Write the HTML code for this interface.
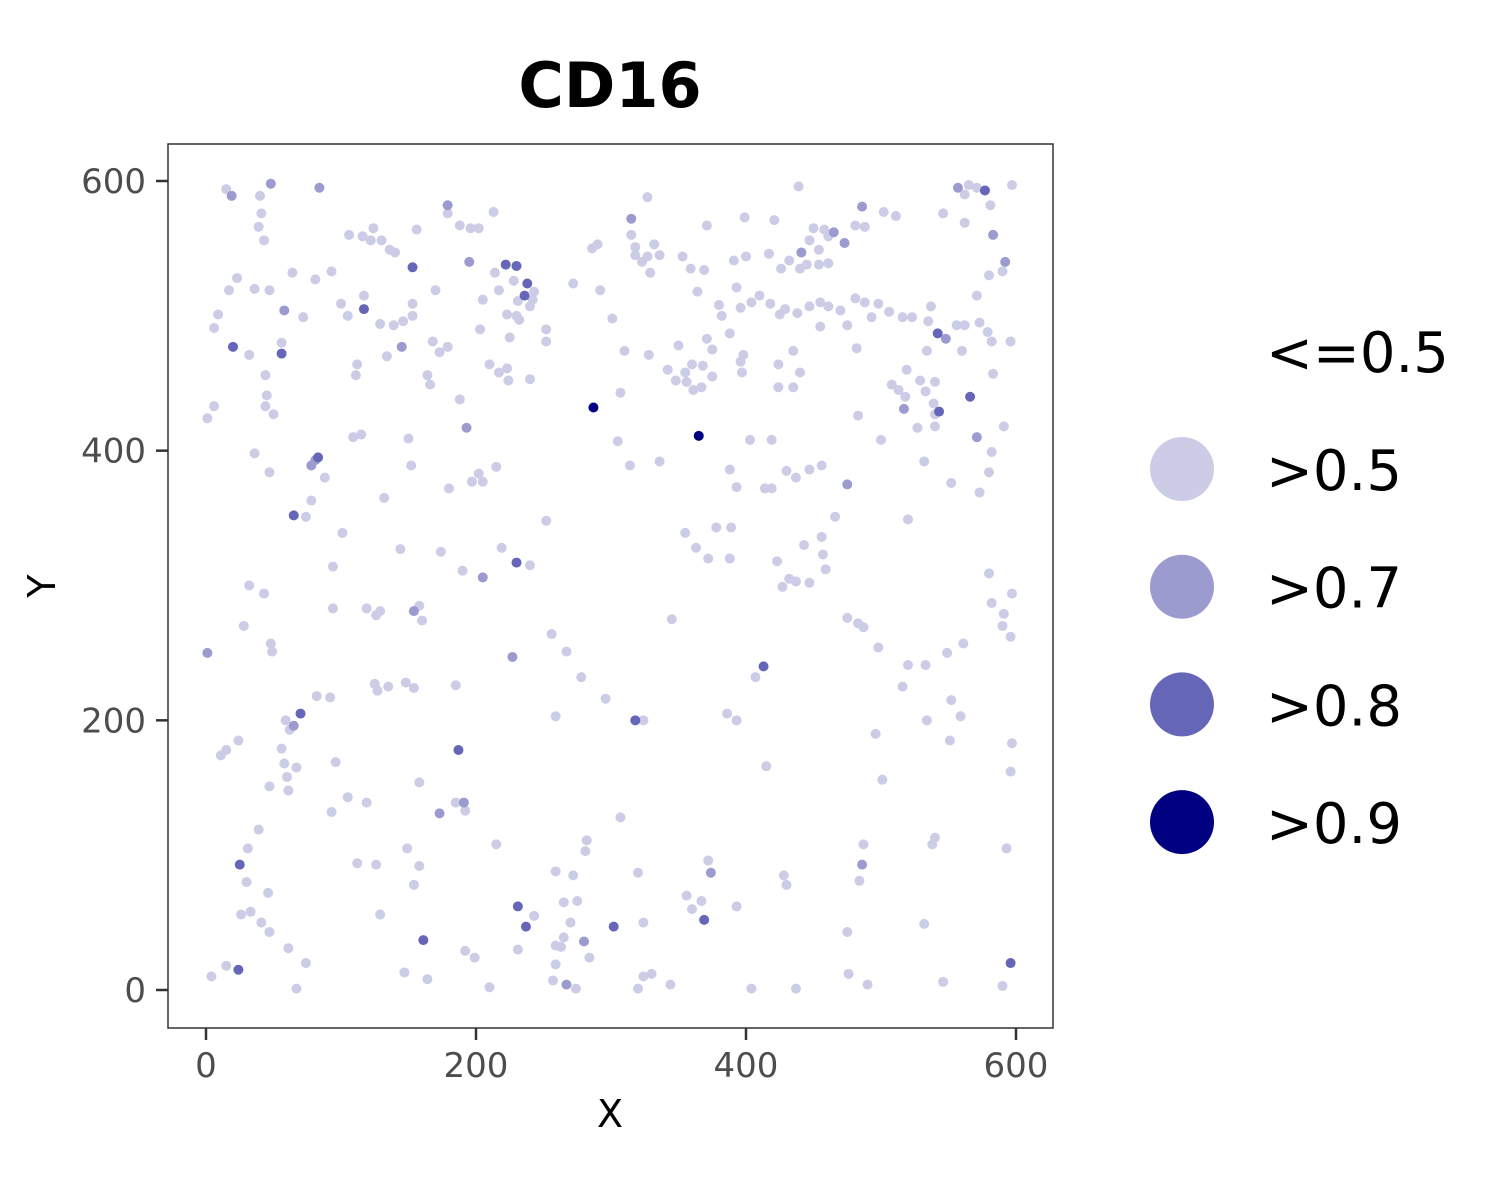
<!DOCTYPE html>
<html><head><meta charset="utf-8"><style>
body{margin:0;background:#fff}
svg{display:block;font-family:"DejaVu Sans","Liberation Sans",sans-serif}
</style></head><body>
<svg id="chart" width="1500" height="1200" viewBox="0 0 1500 1200" xmlns="http://www.w3.org/2000/svg">
<rect width="1500" height="1200" fill="#fff"/>
<text x="610" y="107" text-anchor="middle" font-size="62" font-weight="bold">CD16</text>
<g id="points"></g>
<rect x="168" y="144" width="885" height="884" fill="none" stroke="#333" stroke-width="1.5"/>
<g id="axes"></g>
<text x="610" y="1127" text-anchor="middle" font-size="38">X</text>
<text transform="translate(55,586) rotate(-90)" text-anchor="middle" font-size="38">Y</text>
<g id="legend">
<text x="1266" y="372" font-size="56">&lt;=0.5</text>
</g>
</svg>
<script>
const xTicks=[0,200,400,600];
const yTicks=[0,200,400,600];
const legendLabels=[">0.5",">0.7",">0.8",">0.9"];
const levelColors=["#cccce6","#9c9bcf","#6666b9","#000080"];
const lightPts=[[15,594],[40,589],[179,576],[213,577],[327,588],[399,573],[421,571],[439,596],[502,577],[511,574],[546,576],[565,597],[571,595],[581,582],[597,597],[562,569],[562,590],
[41,576],[39,566],[43,556],[106,560],[124,565],[130,556],[136,549],[140,547],[122,556],[116,559],[156,564],[188,567],[196,565],[202,565],[214,532],[217,519],[228,526],[231,511],[230,500],[243,518],[242,512],[290,553],[286,550],[315,560],[318,545],[323,540],[327,544],[332,553],[336,545],[329,532],[353,544],[359,535],[369,534],[371,567],[364,518],[391,541],[400,544],[417,546],[426,535],[432,541],[440,535],[447,556],[450,565],[458,564],[445,538],[454,538],[461,539],[454,549],[461,559],[481,567],[488,566],
[23,528],[17,519],[9,501],[36,520],[47,519],[64,532],[81,527],[93,533],[100,509],[105,500],[117,515],[129,494],[139,493],[146,496],[153,509],[153,500],[170,519],[205,512],[203,490],[223,501],[225,484],[232,497],[240,507],[252,490],[272,524],[292,519],[301,498],[318,551],[380,508],[382,500],[393,521],[396,506],[404,510],[410,515],[418,509],[425,501],[429,505],[438,502],[447,507],[455,510],[461,507],[470,504],[481,513],[488,510],[498,509],[506,503],[516,499],[523,499],[535,496],[537,507],[556,493],[562,493],[571,515],[580,530],[590,533],[573,495],[579,488],[582,481],[596,481],[493,499],[475,493],[455,492],
[6,491],[32,471],[44,456],[56,480],[72,499],[112,464],[111,456],[134,470],[168,481],[173,473],[179,477],[164,456],[166,449],[188,438],[210,464],[217,458],[224,452],[223,461],[240,453],[252,481],[310,474],[328,471],[307,443],[342,460],[350,478],[355,458],[348,452],[356,451],[360,464],[361,445],[367,447],[371,483],[375,475],[375,455],[368,463],[388,487],[396,466],[398,471],[397,458],[424,464],[424,447],[435,474],[435,447],[440,458],[482,476],[483,426],[508,449],[513,445],[518,440],[519,460],[529,452],[534,474],[540,451],[540,427],[533,444],[539,435],[527,417],[540,418],[583,457],[560,474],
[1,424],[6,433],[45,441],[44,433],[50,427],[36,398],[47,384],[88,380],[78,363],[74,351],[109,410],[115,412],[150,409],[152,389],[180,372],[197,377],[202,383],[205,377],[215,388],[132,365],[314,389],[336,392],[305,407],[403,408],[388,386],[393,373],[414,372],[419,408],[419,372],[430,385],[437,380],[447,386],[456,389],[500,408],[532,392],[552,376],[573,369],[580,384],[582,399],[591,418],
[101,339],[94,314],[94,283],[32,300],[43,294],[144,327],[174,325],[190,311],[219,328],[240,315],[252,348],[119,283],[126,278],[129,281],[158,285],[160,274],[355,339],[363,328],[372,320],[378,343],[388,320],[389,343],[423,318],[427,299],[432,305],[437,303],[447,302],[443,330],[456,336],[457,323],[459,312],[466,351],[345,275],[475,276],[483,272],[487,269],[520,349],[580,309],[582,287],[597,294],[591,279],[590,270],[596,262],[561,257],
[28,270],[48,257],[49,251],[59,200],[62,193],[56,179],[60,158],[58,168],[15,178],[11,174],[24,185],[82,218],[92,217],[96,169],[125,227],[127,222],[135,225],[148,228],[154,224],[185,226],[256,264],[267,251],[278,232],[259,203],[296,216],[324,200],[386,205],[393,200],[407,232],[415,166],[498,254],[496,190],[501,156],[516,225],[520,241],[533,241],[549,250],[534,200],[552,215],[559,203],[551,185],[597,183],[596,162],
[47,151],[61,148],[67,165],[93,132],[105,143],[119,139],[112,94],[126,93],[129,56],[149,105],[158,154],[158,92],[154,78],[185,139],[192,133],[215,108],[31,105],[39,119],[30,80],[46,72],[33,58],[26,56],[41,50],[47,43],[259,88],[265,65],[272,85],[270,50],[282,111],[281,103],[307,128],[320,87],[275,66],[243,55],[324,50],[356,70],[360,60],[367,66],[372,96],[393,62],[428,85],[430,78],[484,81],[487,108],[540,113],[538,108],[532,49],[593,105],[475,43],
[4,10],[15,18],[61,31],[67,1],[74,20],[147,13],[164,8],[192,29],[199,24],[210,2],[231,30],[259,33],[263,32],[259,19],[257,7],[274,1],[284,24],[320,1],[324,10],[330,12],[344,4],[404,1],[437,1],[476,12],[490,4],[546,6],[590,3],[265,39]];
const medPts=[[19,589],[48,598],[84,595],[179,582],[315,572],[486,581],[557,595],[583,560],[195,540],[58,504],[145,477],[441,547],[465,562],[473,554],[592,540],[517,431],[548,483],[81,393],[78,389],[193,417],[205,306],[154,281],[475,375],[571,410],[1,250],[65,196],[227,247],[173,131],[191,139],[374,87],[486,93],[267,4],[280,36]];
const darkPts=[[20,477],[56,472],[153,536],[117,505],[65,352],[70,205],[187,178],[318,200],[413,240],[25,93],[24,15],[302,47],[236,515],[222,538],[230,537],[238,524],[596,20],[566,440],[577,593],[542,487],[543,429],[230,317],[161,37],[369,52],[231,62],[237,47],[83,395]];
const darkestPts=[[287,432],[365,411]];

const NS="http://www.w3.org/2000/svg";
const xScale=v=>206+v*(1016-206)/600;
const yScale=v=>990-v*(990-181)/600;
const pg=document.getElementById('points');
[lightPts,medPts,darkPts,darkestPts].forEach((arr,li)=>{
  arr.forEach(p=>{
    const c=document.createElementNS(NS,'circle');
    c.setAttribute('cx',xScale(p[0]));c.setAttribute('cy',yScale(p[1]));
    c.setAttribute('r',5);c.setAttribute('fill',levelColors[li]);
    
    
    pg.appendChild(c);
  });
});
const ax=document.getElementById('axes');
xTicks.forEach(t=>{
  const l=document.createElementNS(NS,'line');
  l.setAttribute('x1',xScale(t));l.setAttribute('x2',xScale(t));l.setAttribute('y1',1028);l.setAttribute('y2',1040);
  l.setAttribute('stroke','#333');l.setAttribute('stroke-width',2.5);
  
  
  ax.appendChild(l);
  const tx=document.createElementNS(NS,'text');
  tx.setAttribute('x',xScale(t));tx.setAttribute('y',1077);tx.setAttribute('text-anchor','middle');
  tx.setAttribute('font-size',34);tx.setAttribute('fill','#4d4d4d');tx.textContent=t;
  
  
  ax.appendChild(tx);
});
yTicks.forEach(t=>{
  const l=document.createElementNS(NS,'line');
  l.setAttribute('y1',yScale(t));l.setAttribute('y2',yScale(t));l.setAttribute('x1',156);l.setAttribute('x2',168);
  l.setAttribute('stroke','#333');l.setAttribute('stroke-width',2.5);
  
  
  ax.appendChild(l);
  const tx=document.createElementNS(NS,'text');
  tx.setAttribute('x',146);tx.setAttribute('y',yScale(t)+12);tx.setAttribute('text-anchor','end');
  tx.setAttribute('font-size',34);tx.setAttribute('fill','#4d4d4d');tx.textContent=t;
  
  
  ax.appendChild(tx);
});
const lg=document.getElementById('legend');
legendLabels.forEach((lab,i)=>{
  const cy=469+i*117.7;
  const c=document.createElementNS(NS,'circle');
  c.setAttribute('cx',1182);c.setAttribute('cy',cy);c.setAttribute('r',32);c.setAttribute('fill',levelColors[i]);
  
  
  lg.appendChild(c);
  const tx=document.createElementNS(NS,'text');
  tx.setAttribute('x',1266);tx.setAttribute('y',cy+21);tx.setAttribute('font-size',56);tx.textContent=lab;
  
  
  lg.appendChild(tx);
});
</script>
</body></html>
